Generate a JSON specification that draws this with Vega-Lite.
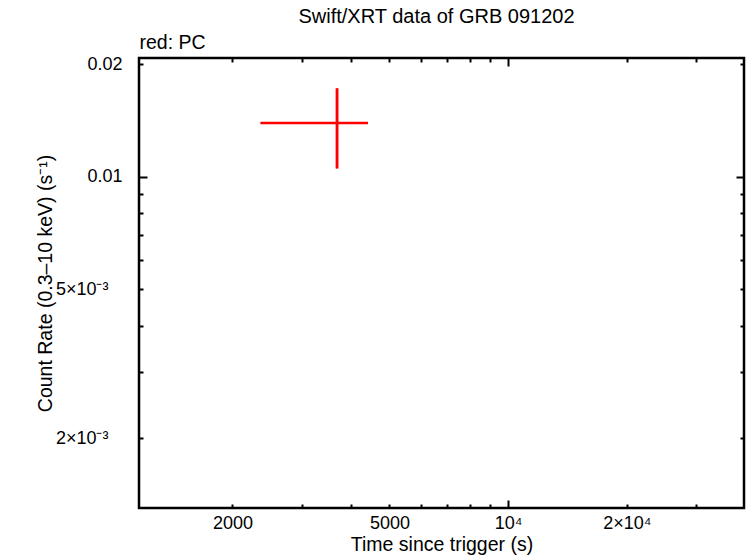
{
  "$schema": "https://vega.github.io/schema/vega-lite/v6.json",
  "description": "Swift/XRT light curve of GRB 091202",
  "width": 605,
  "height": 450,
  "autosize": {"type": "none"},
  "padding": {"left": 139, "top": 58, "right": 2, "bottom": 50},
  "background": "white",
  "title": {
    "text": "Swift/XRT data of GRB 091202",
    "anchor": "middle",
    "dx": -5,
    "font": "Liberation Sans",
    "fontSize": 20,
    "fontWeight": "normal",
    "color": "black",
    "offset": 5
  },
  "config": {
    "view": {"stroke": "black", "strokeWidth": 2.5},
    "axis": {
      "domain": false,
      "grid": false,
      "labelFont": "Liberation Sans",
      "labelFontSize": 18,
      "labelColor": "black",
      "titleFont": "Liberation Sans",
      "titleFontSize": 19.5,
      "titleFontWeight": "normal",
      "titleColor": "black",
      "tickColor": "black",
      "tickWidth": 2
    }
  },
  "data": {
    "values": [
      {"t": 3682, "t_lo": 2354, "t_hi": 4412, "rate": 0.013927, "rate_lo": 0.010536, "rate_hi": 0.01725}
    ]
  },
  "resolve": {"axis": {"x": "independent", "y": "independent"}},
  "layer": [
    {
      "mark": {"type": "rule", "color": "#ff0000", "strokeWidth": 2.5},
      "encoding": {
        "x": {
          "field": "t_lo", "type": "quantitative",
          "scale": {"type": "log", "domain": [1159, 39600], "nice": false},
          "axis": {
            "orient": "bottom", "ticks": false, "values": [2000, 5000, 10000, 20000],
            "labelExpr": "datum.value == 2000 ? '2000' : datum.value == 5000 ? '5000' : datum.value == 10000 ? '10⁴' : '2×10⁴'",
            "labelPadding": 6, "title": "Time since trigger (s)", "titlePadding": 3
          }
        },
        "x2": {"field": "t_hi"},
        "y": {
          "field": "rate", "type": "quantitative",
          "scale": {"type": "log", "domain": [0.0013, 0.0208], "nice": false},
          "axis": {
            "orient": "left", "ticks": false, "values": [0.002, 0.005, 0.01, 0.02],
            "labelExpr": "datum.value == 0.002 ? '2×10⁻³' : datum.value == 0.005 ? '5×10⁻³' : datum.value == 0.01 ? '0.01' : '0.02'",
            "labelPadding": {"condition": {"test": "datum.value < 0.008", "value": 31}, "value": 17},
            "title": "Count Rate (0.3–10 keV) (s⁻¹)", "titlePadding": 0
          }
        }
      }
    },
    {
      "mark": {"type": "rule", "color": "#ff0000", "strokeWidth": 2.5},
      "encoding": {
        "x": {
          "field": "t", "type": "quantitative",
          "axis": {
            "orient": "bottom", "labels": false, "title": null,
            "values": [2000, 3000, 4000, 5000, 6000, 7000, 8000, 9000, 10000, 20000, 30000],
            "tickSize": {"condition": {"test": "datum.value == 10000", "value": -8}, "value": -4}
          }
        },
        "y": {
          "field": "rate_lo", "type": "quantitative",
          "axis": {
            "orient": "left", "labels": false, "title": null,
            "values": [0.002, 0.003, 0.004, 0.005, 0.006, 0.007, 0.008, 0.009, 0.01, 0.02],
            "tickSize": {"condition": {"test": "datum.value == 0.01", "value": -8}, "value": -4}
          }
        },
        "y2": {"field": "rate_hi"}
      }
    },
    {
      "mark": {"type": "rule", "color": "#ff0000", "strokeWidth": 2.5},
      "encoding": {
        "x": {
          "field": "t", "type": "quantitative",
          "axis": {
            "orient": "top", "labels": false,
            "values": [2000, 3000, 4000, 5000, 6000, 7000, 8000, 9000, 10000, 20000, 30000],
            "tickSize": {"condition": {"test": "datum.value == 10000", "value": -8}, "value": -4},
            "title": "red: PC", "titleAnchor": "start", "titleAlign": "left", "titlePadding": 5
          }
        },
        "y": {
          "field": "rate_lo", "type": "quantitative",
          "axis": {
            "orient": "right", "labels": false, "title": null,
            "values": [0.002, 0.003, 0.004, 0.005, 0.006, 0.007, 0.008, 0.009, 0.01, 0.02],
            "tickSize": {"condition": {"test": "datum.value == 0.01", "value": -8}, "value": -4}
          }
        },
        "y2": {"field": "rate_hi"}
      }
    }
  ]
}
